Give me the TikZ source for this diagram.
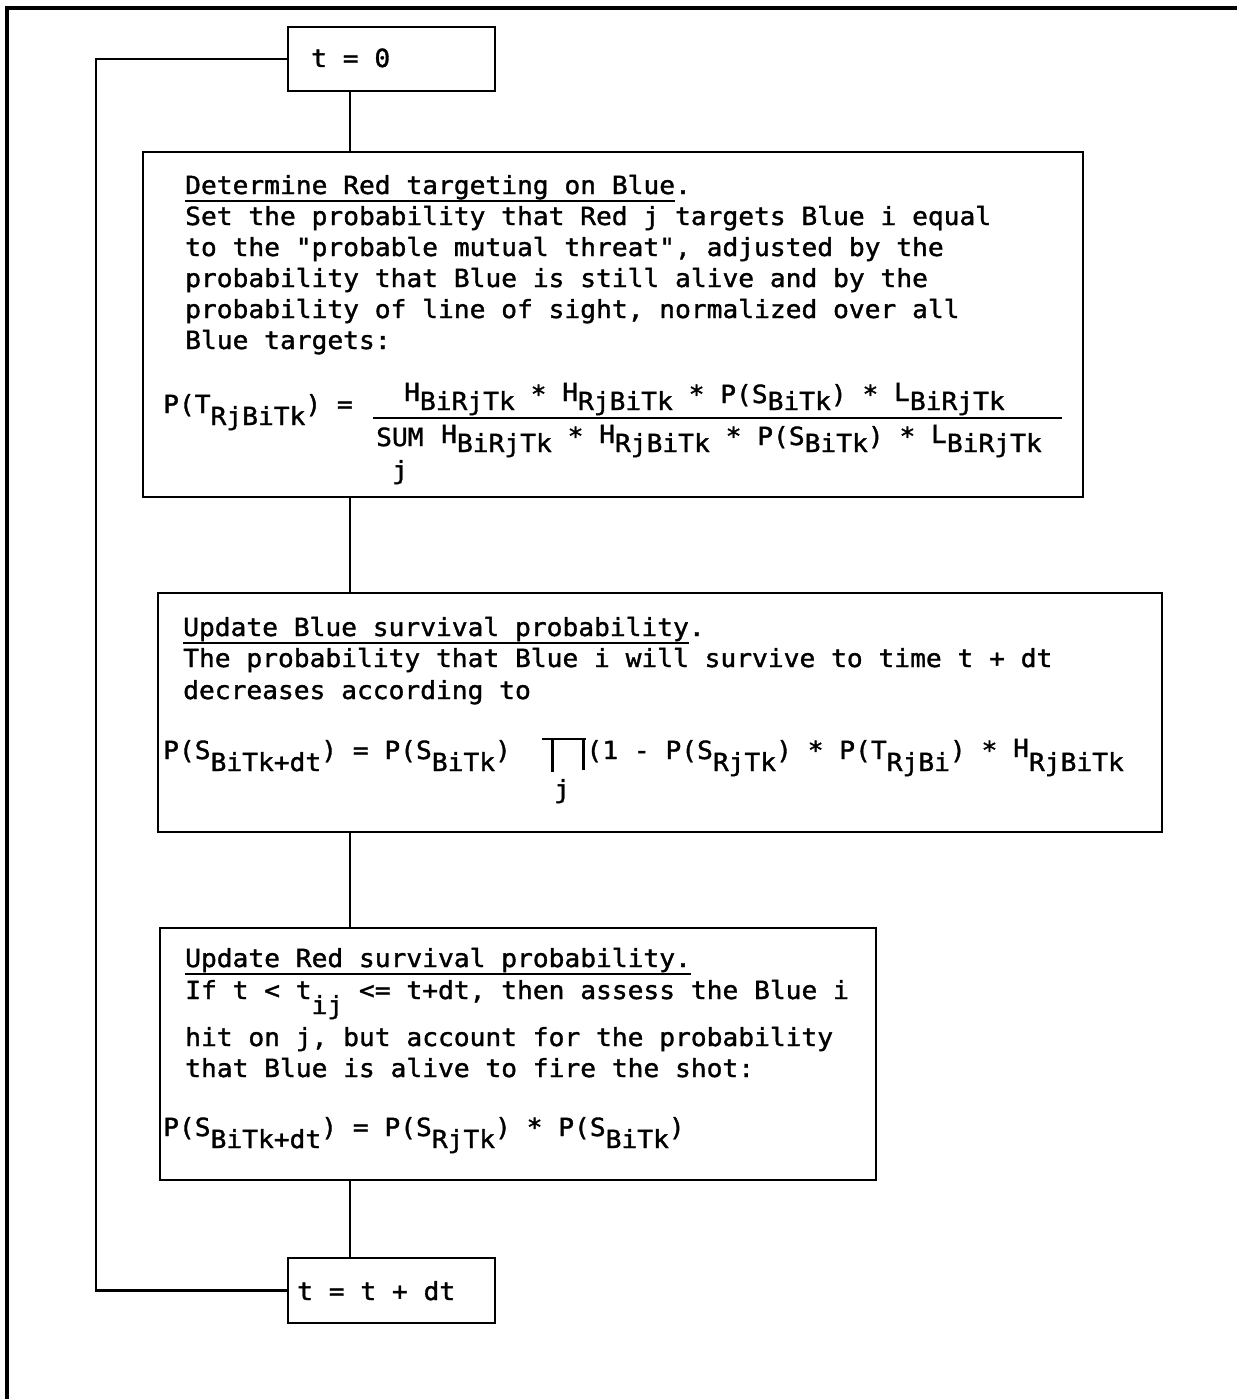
\documentclass[tikz,border=0pt]{standalone}
\usepackage{fontspec}
\newfontfamily\tw[FakeStretch=1.05,FakeBold=1.4]{DejaVu Sans Mono}
\newlength\ulw
\newcommand\dn[1]{\raisebox{-12pt}{#1}}
\newcommand\dnf[1]{\raisebox{-7pt}{#1}}
\newcommand\upH[1]{\raisebox{2pt}{#1}}
\newcommand\ul[1]{\settowidth{\ulw}{#1}\rlap{\rule[-8pt]{\ulw}{2.2pt}}#1}
\newcommand\prodsym{\makebox[44pt][l]{\rlap{\rule[19pt]{44pt}{2.4pt}}\hspace*{9pt}\rlap{\rule[-13pt]{2.4pt}{34pt}}\hspace*{31pt}\rule[-11pt]{2.4pt}{32pt}}}
\tikzset{
  txt/.style={anchor=base west, inner sep=0pt, font=\tw\fontsize{25}{31}\selectfont},
  box/.style={draw, line width=2.6pt, inner sep=0pt},
  conn/.style={line width=2.6pt},
}
\begin{document}
\begin{tikzpicture}[x=1pt, y=-1pt]
\useasboundingbox (0,0) rectangle (1237,1399);
% outer frame (top and left only)
\draw[line width=3.5pt] (7,1399) -- (7,8) -- (1237,8);

% boxes
\node[box, minimum width=207pt, minimum height=64pt] (t0) at (391.5,59) {};
\node[box, minimum width=940pt, minimum height=345pt] (b2) at (613,324.5) {};
\node[box, minimum width=1004pt, minimum height=239pt] (b3) at (660,712.5) {};
\node[box, minimum width=716pt, minimum height=252pt] (b4) at (518,1054) {};
\node[box, minimum width=207pt, minimum height=65pt] (t1) at (391.5,1290.5) {};

% connectors
\coordinate (cx) at (350,0);
\coordinate (lp) at (96,0);
\draw[conn] (t0.south -| cx) -- (b2.north -| cx);
\draw[conn] (b2.south -| cx) -- (b3.north -| cx);
\draw[conn] (b3.south -| cx) -- (b4.north -| cx);
\draw[conn] (b4.south -| cx) -- (t1.north -| cx);
\draw[conn] (t1.west) -- (t1.west -| lp) -- (t0.west -| lp) -- (t0.west);

% texts
\node[txt] (t0t) at (311,67) {t = 0};
\node[txt] (t1t) at (297,1300) {t = t + dt};

\node[txt] (b2l1) at (185,194) {\ul{Determine Red targeting on Blue}.};
\node[txt] (b2l2) at (185,225) {Set the probability that Red j targets Blue i equal};
\node[txt] (b2l3) at (185,256) {to the "probable mutual threat", adjusted by the};
\node[txt] (b2l4) at (185,287) {probability that Blue is still alive and by the};
\node[txt] (b2l5) at (185,318) {probability of line of sight, normalized over all};
\node[txt] (b2l6) at (185,349) {Blue targets:};
\node[txt] (f1a) at (163,413) {P(T\dn{RjBiTk}) =};
\node[txt] (f1n) at (404,403) {\upH{H}\dnf{BiRjTk} * \upH{H}\dnf{RjBiTk} * P(S\dnf{BiTk}) * \upH{L}\dnf{BiRjTk}};
\draw[line width=2.4pt] (373,418) -- (1062,418);
\node[txt] (f1s) at (376,446) {SUM};
\node[txt] (f1d) at (441,445) {\upH{H}\dnf{BiRjTk} * \upH{H}\dnf{RjBiTk} * P(S\dnf{BiTk}) * \upH{L}\dnf{BiRjTk}};
\node[txt] (f1j) at (392,479) {j};

\node[txt] (b3l1) at (183,636) {\ul{Update Blue survival probability}.};
\node[txt] (b3l2) at (183,667) {The probability that Blue i will survive to time t + dt};
\node[txt] (b3l3) at (183,699) {decreases according to};
\node[txt] (f2) at (163,759) {P(S\dn{BiTk+dt}) = P(S\dn{BiTk})\ \ \prodsym(1 - P(S\dn{RjTk}) * P(T\dn{RjBi}) * \upH{H}\dn{RjBiTk}};
\node[txt] (f2j) at (554,798) {j};

\node[txt] (b4l1) at (185,967) {\ul{Update Red survival probability.}};
\node[txt] (b4l2) at (185,999) {If t < t\raisebox{-15pt}{ij} <= t+dt, then assess the Blue i};
\node[txt] (b4l3) at (185,1046) {hit on j, but account for the probability};
\node[txt] (b4l4) at (185,1077) {that Blue is alive to fire the shot:};
\node[txt] (f3) at (163,1136) {P(S\dn{BiTk+dt}) = P(S\dn{RjTk}) * P(S\dn{BiTk})};
\end{tikzpicture}
\end{document}
